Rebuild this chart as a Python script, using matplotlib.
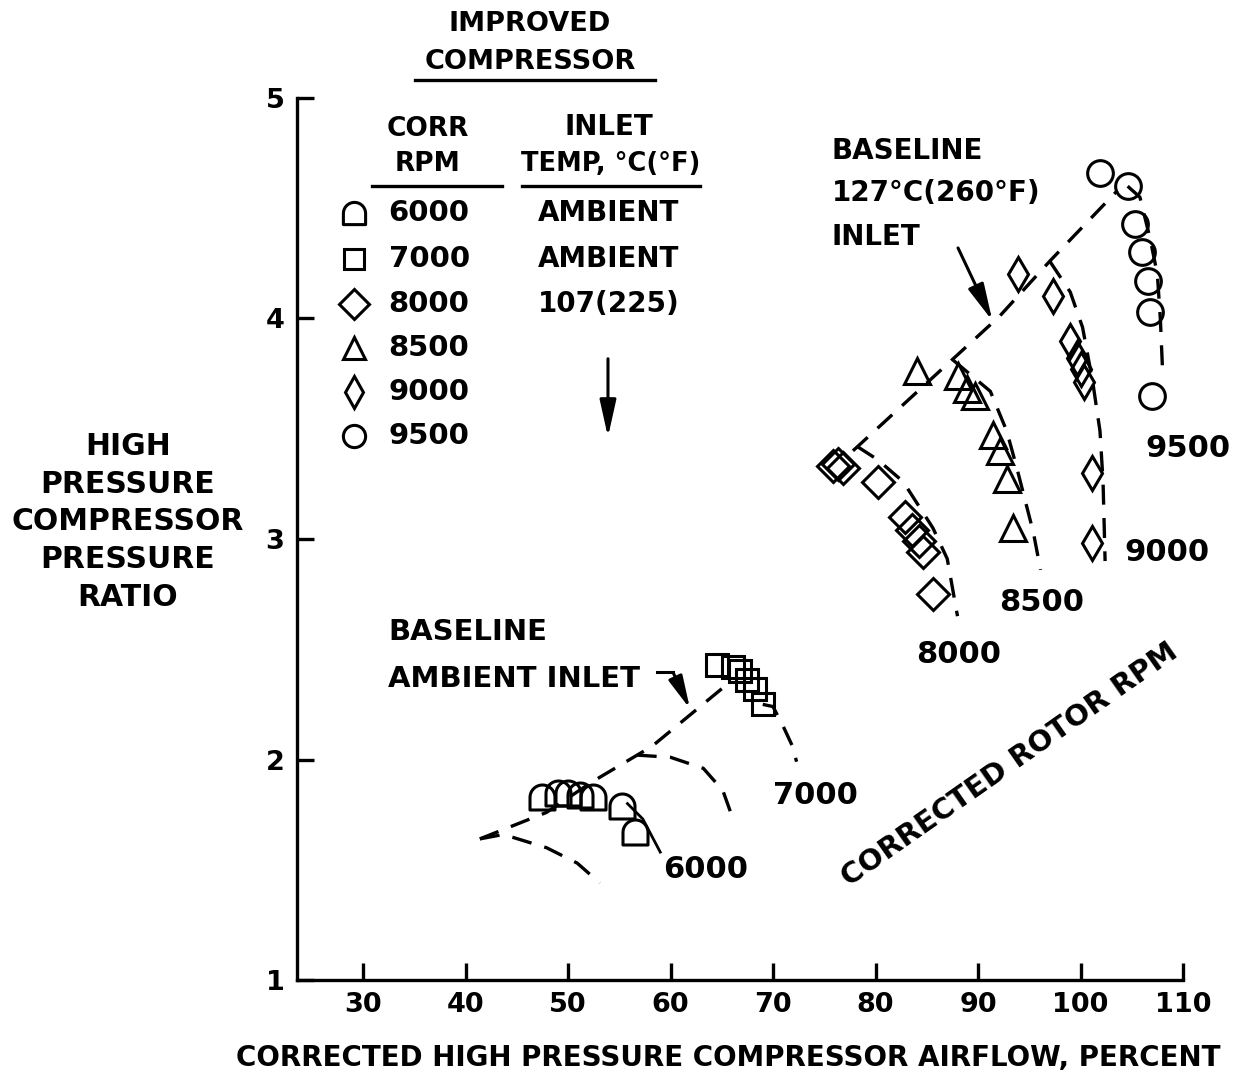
import numpy as np
import matplotlib.pyplot as plt
from matplotlib.path import Path

plt.rcParams['font.family'] = 'DejaVu Sans'
plt.rcParams['font.weight'] = 'bold'

# improved compressor test points (airflow %, pressure ratio)
rpm6000_x = [47.5, 49.0, 50.0, 51.2, 52.4, 55.3, 56.5]
rpm6000_y = [1.83, 1.85, 1.85, 1.84, 1.83, 1.79, 1.67]
rpm7000_x = [64.5, 66.1, 66.8, 67.5, 68.2, 69.0]
rpm7000_y = [2.43, 2.42, 2.40, 2.36, 2.32, 2.25]
rpm8000_x = [75.9, 76.3, 76.8, 80.2, 82.9, 83.6, 84.2, 84.6, 85.6]
rpm8000_y = [3.33, 3.34, 3.32, 3.26, 3.10, 3.04, 2.99, 2.94, 2.75]
rpm8500_x = [84.0, 88.0, 88.9, 89.7, 91.5, 92.1, 92.8, 93.4]
rpm8500_y = [3.76, 3.74, 3.68, 3.65, 3.47, 3.40, 3.27, 3.05]
rpm9000_x = [93.9, 97.3, 99.0, 99.7, 100.0, 100.3, 101.1, 101.1]
rpm9000_y = [4.20, 4.10, 3.90, 3.82, 3.77, 3.71, 3.30, 2.98]
rpm9500_x = [101.9, 104.6, 105.3, 106.0, 106.6, 106.8, 107.0]
rpm9500_y = [4.66, 4.60, 4.43, 4.30, 4.17, 4.03, 3.65]

# baseline, 127 C inlet
hot_surge_x = [77.8, 86.0, 92.1, 97.0, 103.6]
hot_surge_y = [3.40, 3.75, 4.01, 4.26, 4.58]
hot8000_x = [78.2, 80.2, 82.7, 85.6, 87.0, 88.0]
hot8000_y = [3.42, 3.36, 3.26, 3.05, 2.91, 2.65]
hot8500_x = [87.6, 91.2, 92.8, 93.8, 95.4, 96.1]
hot8500_y = [3.81, 3.67, 3.49, 3.32, 3.03, 2.86]
hot9000_x = [97.0, 99.0, 100.2, 101.2, 101.9, 102.2, 102.4]
hot9000_y = [4.26, 4.12, 3.96, 3.71, 3.49, 3.26, 2.90]
hot9500_x = [104.6, 105.8, 106.8, 107.5, 107.8, 108.0]
hot9500_y = [4.60, 4.55, 4.36, 4.20, 3.99, 3.77]

# baseline, ambient inlet
amb_surge_x = [41.4, 47.9, 52.4, 58.2, 65.5]
amb_surge_y = [1.64, 1.76, 1.90, 2.06, 2.34]
amb6000_x = [41.4, 43.7, 47.9, 50.9, 53.1]
amb6000_y = [1.64, 1.66, 1.60, 1.53, 1.44]
amb7000_x = [56.7, 60.0, 63.2, 65.1, 66.1]
amb7000_y = [2.02, 2.01, 1.96, 1.86, 1.73]

# improved speed line tails
imp6000_x = [55.8, 57.3, 59.0]
imp6000_y = [1.80, 1.73, 1.58]
imp7000_x = [69.0, 70.0, 71.0, 71.9, 72.3]
imp7000_y = [2.25, 2.24, 2.15, 2.06, 1.99]

rpm_labels = ['6000', '7000', '8000', '8500', '9000', '9500']
inlet_labels = ['AMBIENT', 'AMBIENT', '107(225)']
xticks = [30, 40, 50, 60, 70, 80, 90, 100, 110]
yticks = [1, 2, 3, 4, 5]

# rounded-top square marker for 6000 rpm
t = np.linspace(0, np.pi, 25)
verts = [(-1, -1), (1, -1), (1, 0)] + list(zip(np.cos(t), np.sin(t))) + [(-1, -1)]
dome = Path(verts, closed=True)

LW = 2.4
dash = (0, (6, 4))
mk = dict(color='k', mfc='none', mec='k', mew=2.2, ls='none')

fig = plt.figure(figsize=(12.45, 10.78), dpi=100)
ax = fig.add_axes([297 / 1245, 98 / 1078, 886 / 1245, 882 / 1078])
ax.set_xlim(23.56, 110)
ax.set_ylim(1, 5)
for s in ['top', 'right']:
    ax.spines[s].set_visible(False)
for s in ['left', 'bottom']:
    ax.spines[s].set_linewidth(LW)
ax.set_xticks(xticks)
ax.set_yticks(yticks)
ax.tick_params(direction='in', length=12, width=LW, labelsize=19.5, pad=9)

# dashed speed / surge lines
for xs, ys in [(hot_surge_x, hot_surge_y), (hot8000_x, hot8000_y), (hot8500_x, hot8500_y),
               (hot9000_x, hot9000_y), (hot9500_x, hot9500_y), (amb_surge_x, amb_surge_y),
               (amb6000_x, amb6000_y), (amb7000_x, amb7000_y), (imp7000_x, imp7000_y)]:
    ax.plot(xs, ys, color='k', lw=LW, ls=dash)
ax.plot(imp6000_x, imp6000_y, color='k', lw=2.0)

# data points
ax.plot(rpm6000_x, rpm6000_y, marker=dome, ms=18, **mk)
ax.plot(rpm7000_x, rpm7000_y, marker='s', ms=16, **mk)
ax.plot(rpm8000_x, rpm8000_y, marker='D', ms=16, **mk)
ax.plot(rpm8500_x, rpm8500_y, marker='^', ms=19, **mk)
ax.plot(rpm9000_x, rpm9000_y, marker='d', ms=17, **mk)
ax.plot(rpm9500_x, rpm9500_y, marker='o', ms=18.5, **mk)

# legend block
fs = 20
ax.text(46.3, 5.335, 'IMPROVED', ha='center', va='center', fontsize=19.5, clip_on=False)
ax.text(46.3, 5.165, 'COMPRESSOR', ha='center', va='center', fontsize=19.5, clip_on=False)
ax.plot([35.1, 58.5], [5.08, 5.08], color='k', lw=LW, clip_on=False)
ax.text(36.3, 4.86, 'CORR', ha='center', va='center', fontsize=19)
ax.text(36.3, 4.70, 'RPM', ha='center', va='center', fontsize=19)
ax.plot([30.9, 43.6], [4.60, 4.60], color='k', lw=LW)
ax.text(54.0, 4.87, 'INLET', ha='center', va='center', fontsize=fs)
ax.text(54.2, 4.70, 'TEMP, °C(°F)', ha='center', va='center', fontsize=18.5)
ax.plot([45.5, 62.9], [4.60, 4.60], color='k', lw=LW)

row_y = [4.477, 4.268, 4.068, 3.868, 3.668, 3.468]
leg_marks = [(dome, 16), ('s', 14), ('D', 15), ('^', 16), ('d', 16), ('o', 16)]
for i, (m, size) in enumerate(leg_marks):
    ax.plot([29.1], [row_y[i]], marker=m, ms=size, **mk)
    ax.text(32.5, row_y[i], rpm_labels[i], ha='left', va='center', fontsize=21)
for i, lab in enumerate(inlet_labels):
    ax.text(54.0, row_y[i], lab, ha='center', va='center', fontsize=fs)
ax.annotate('', xy=(53.9, 3.45), xytext=(53.9, 3.83),
            arrowprops=dict(arrowstyle='-|>,head_length=0.9,head_width=0.2',
                            lw=2.2, color='k', mutation_scale=25))

# baseline labels
ax.text(75.75, 4.76, 'BASELINE', ha='left', va='center', fontsize=fs)
ax.text(75.75, 4.57, '127°C(260°F)', ha='left', va='center', fontsize=fs)
ax.text(75.75, 4.37, 'INLET', ha='left', va='center', fontsize=fs)
ax.annotate('', xy=(91.4, 3.99), xytext=(88.05, 4.32),
            arrowprops=dict(arrowstyle='-|>,head_length=0.9,head_width=0.2',
                            lw=2.2, color='k', mutation_scale=25, shrinkA=0, shrinkB=0))

ax.text(32.45, 2.577, 'BASELINE', ha='left', va='center', fontsize=21)
ax.text(32.45, 2.364, 'AMBIENT INLET', ha='left', va='center', fontsize=21)
ax.plot([58.7, 60.25], [2.395, 2.395], color='k', lw=2.2)
ax.annotate('', xy=(61.9, 2.23), xytext=(60.25, 2.395),
            arrowprops=dict(arrowstyle='-|>,head_length=0.9,head_width=0.2',
                            lw=2.2, color='k', mutation_scale=22, shrinkA=0, shrinkB=0))

# speed line labels
spd_pos = [(59.3, 1.50), (70.0, 1.836), (84.0, 2.477), (92.1, 2.71), (104.3, 2.94), (106.3, 3.41)]
for lab, (x, y) in zip(rpm_labels, spd_pos):
    ax.text(x, y, lab, ha='left', va='center', fontsize=22)
ax.text(93.1, 1.977, 'CORRECTED ROTOR RPM', ha='center', va='center',
        fontsize=21, rotation=35, rotation_mode='anchor')

# axis titles
fig.text(128 / 1245, 1 - 522 / 1078, 'HIGH\nPRESSURE\nCOMPRESSOR\nPRESSURE\nRATIO',
         ha='center', va='center', fontsize=21.5, linespacing=1.38)
fig.text(728 / 1245, 1 - 1058 / 1078, 'CORRECTED HIGH PRESSURE COMPRESSOR AIRFLOW, PERCENT',
         ha='center', va='center', fontsize=20)

fig.savefig('out.png', dpi=100)
